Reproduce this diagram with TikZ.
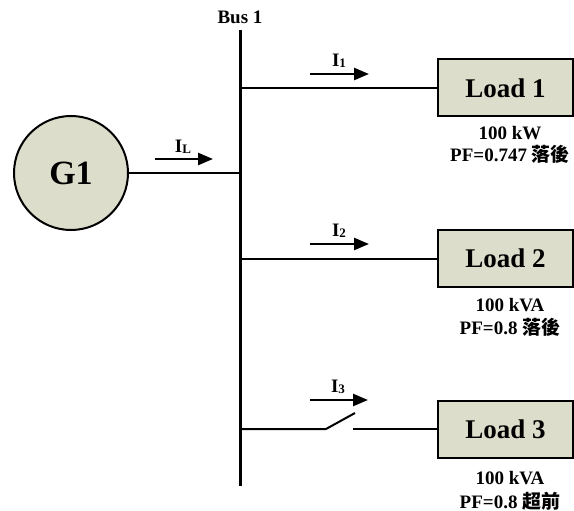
\documentclass[tikz,border=0pt]{standalone}
\usepackage{fontspec}
\setmainfont{Liberation Serif}
\newfontfamily\cjk{Noto Sans CJK TC}
\usetikzlibrary{arrows.meta}
\definecolor{loadfill}{RGB}{221,221,203}
\begin{document}
\begin{tikzpicture}[x=1pt,y=-1pt,
  loadbox/.style={draw, line width=2pt, fill=loadfill, minimum width=135pt, minimum height=57pt, inner sep=0pt, font=\fontsize{27}{30}\selectfont\bfseries},
  gen/.style={circle, draw, line width=2pt, fill=loadfill, minimum size=114pt, inner sep=0pt, font=\fontsize{34}{36}\selectfont\bfseries},
  wire/.style={line width=2pt},
  busline/.style={line width=3pt},
  cur/.style={line width=2.5pt, -{Triangle[length=15pt,width=12pt]}},
  info/.style={font=\fontsize{19}{21}\selectfont\bfseries, inner sep=0pt},
  lbl/.style={font=\fontsize{19}{21}\selectfont\bfseries, inner sep=0pt}]
\useasboundingbox (0,0) rectangle (574,511);
% bus
\coordinate (bustop) at (240,30);
\coordinate (busbot) at (240,486);
\draw[busline] (bustop) -- (busbot);
\node[lbl] (buslabel) at (240,17) {Bus 1};
% generator
\node[gen] (g1) at (71,173) {G1};
\coordinate (bg) at (240,173);
\draw[wire] (g1.east) -- (bg);
% loads
\node[loadbox] (load1) at (505.5,88) {Load 1};
\node[loadbox] (load2) at (505.5,258.5) {Load 2};
\node[loadbox] (load3) at (505.5,429) {Load 3};
\coordinate (b1) at (240,88);
\coordinate (b2) at (240,258.5);
\coordinate (b3) at (240,429);
\draw[wire] (b1) -- (load1.west);
\draw[wire] (b2) -- (load2.west);
% switch
\coordinate (s1) at (326,429);
\coordinate (s2) at (355,413);
\coordinate (s3) at (353,429);
\draw[wire] (b3) -- (s1) -- (s2);
\draw[wire] (s3) -- (load3.west);
% currents
\coordinate (aLs) at (155,159); \coordinate (aLe) at (213,159);
\draw[cur] (aLs) -- (aLe);
\node[lbl] (iL) at (183,147) {I\raisebox{-0.5pt}{\fontsize{13}{13}\selectfont L}};
\coordinate (a1s) at (310,74); \coordinate (a1e) at (369,74);
\draw[cur] (a1s) -- (a1e);
\node[lbl] (i1) at (339,61) {I\raisebox{-0.5pt}{\fontsize{13}{13}\selectfont 1}};
\coordinate (a2s) at (310,244); \coordinate (a2e) at (369,244);
\draw[cur] (a2s) -- (a2e);
\node[lbl] (i2) at (339,231) {I\raisebox{-0.5pt}{\fontsize{13}{13}\selectfont 2}};
\coordinate (a3s) at (310,400); \coordinate (a3e) at (368,400);
\draw[cur] (a3s) -- (a3e);
\node[lbl] (i3) at (338,387) {I\raisebox{-0.5pt}{\fontsize{13}{13}\selectfont 3}};
% info texts
\node[info] (p1a) at (510,133) {100 kW};
\node[info] (p1b) at (510,154) {PF=0.747 {\cjk 落後}};
\node[info] (p2a) at (510,305) {100 kVA};
\node[info] (p2b) at (510,327) {PF=0.8 {\cjk 落後}};
\node[info] (p3a) at (510,478) {100 kVA};
\node[info] (p3b) at (510,501) {PF=0.8 {\cjk 超前}};
\end{tikzpicture}
\end{document}
